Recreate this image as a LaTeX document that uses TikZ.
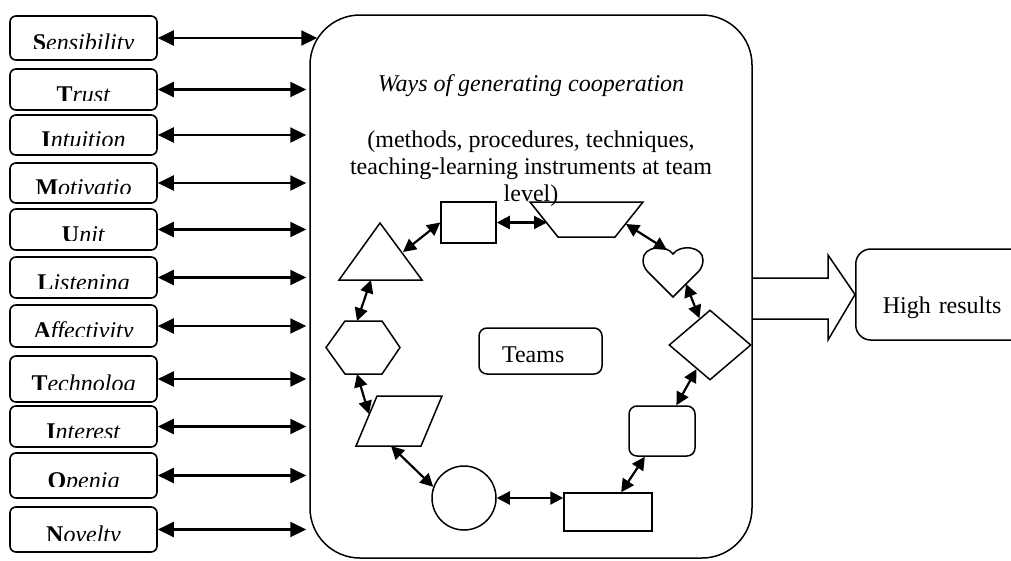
\documentclass[tikz,border=0pt]{standalone}
\usepackage{fontspec}
\setmainfont{Liberation Serif}
\usetikzlibrary{arrows.meta,shapes.geometric}

\begin{document}
\begin{tikzpicture}[x=1pt, y=-1pt, font=\fontsize{24}{27}\selectfont,
  lbox/.style={draw, line width=1.6pt, rounded corners=6pt, minimum width=147pt, inner sep=0pt},
  shp/.style={draw, line width=1.5pt, inner sep=0pt},
  link/.style={{Triangle[length=16pt,width=15pt]}-{Triangle[length=16pt,width=15pt]}, line width=2.2pt},
  slink/.style={{Triangle[length=13pt,width=13pt]}-{Triangle[length=13pt,width=13pt]}, line width=2.2pt}]
\useasboundingbox (0,0) rectangle (1011,560);
% main frame and its texts
\node[shp, rounded corners=50pt, minimum width=442pt, minimum height=543pt] (main) at (531,286.5) {};
\node[anchor=base, font=\fontsize{24}{27}\selectfont\itshape] (title) at (531,91) {Ways of generating cooperation};
\node[anchor=north, align=center, inner sep=0pt] (sub) at (531,130.5) {(methods, procedures, techniques,\\teaching-learning instruments at team\\level)};
% values on the left
\foreach \fl/\rl/\yc/\hh/\sx [count=\i] in {S/ensibility/38/44/8, T/rust/89.5/41/-3, I/ntuition/135/40/-3,
  M/otivatio/183/40/-3, U/nit/229.5/41/-3, L/istening/277.5/41/-3, A/ffectivity/326/42/-3,
  T/echnolog/379/46/-3, I/nterest/426.5/41/-3, O/penig/475.5/45/-3, N/ovelty/529.5/45/-3} {
  \node[lbox, minimum height=\hh pt] (b\i) at (83.5,\yc) {};
  \begin{scope}
    \clip (b\i.north west) rectangle ([yshift=-10.5pt]b\i.east);
    \node[anchor=base, inner sep=0pt] (t\i) at ([yshift=-12.5pt]b\i.center) {\textbf{\fl}\textit{\rl}};
  \end{scope}
  \draw[link] (b\i) -- ([xshift=\sx pt]b\i -| main.west);
}
% ring of tools
\node[shp, minimum width=55pt, minimum height=41pt] (rtop) at (468.5,222.5) {};
\draw[shp] (530,202) -- (643,202) -- (615,237) -- (558,237) -- cycle;
\coordinate (trapl) at (547,222.5); \coordinate (trapr) at (626,224);
\draw[shp] (673,254) .. controls (666,244) and (643,246) .. (643,260) .. controls (643,265) and (645,269) .. (648,272)
  -- (673,297) -- (698,272) .. controls (701,269) and (703,265) .. (703,260) .. controls (703,246) and (680,244) .. (673,254) -- cycle;
\coordinate (heartl) at (667,250); \coordinate (heartb) at (686,284);
\node[shp, diamond, minimum width=82pt, minimum height=70pt] (dia) at (710,345) {};
\node[shp, rounded corners=8pt, minimum width=66pt, minimum height=50pt] (rsq) at (662,431) {};
\node[shp, minimum width=88pt, minimum height=38pt] (rbot) at (608,512) {};
\node[shp, circle, minimum size=64pt] (circ) at (464,498) {};
\draw[shp] (377,396) -- (442,396) -- (421,446) -- (356,446) -- cycle;
\coordinate (parab) at (391,446); \coordinate (paral) at (369,414);
\draw[shp] (326,347.5) -- (345,321) -- (382,321) -- (400,347.5) -- (382,374) -- (345,374) -- cycle;
\coordinate (hext) at (357,321); \coordinate (hexb) at (357,374);
\draw[shp] (380,223) -- (422,280) -- (339,280) -- cycle;
\coordinate (trir) at (403,252); \coordinate (trib) at (371,280);
\draw[slink] (trir) -- (rtop.west);
\draw[slink] (rtop) -- (trapl);
\draw[slink] (trapr) -- (heartl);
\draw[slink] (heartb) -- (dia);
\draw[slink] (dia) -- (rsq);
\draw[slink] (rsq) -- (rbot);
\draw[slink] (rbot.west |- circ.east) -- (circ.east);
\draw[slink] (circ.160) -- (parab);
\draw[slink] (paral) -- (hexb);
\draw[slink] (hext) -- (trib);
\node[shp, rounded corners=8pt, minimum width=123pt, minimum height=46pt, text width=77pt, inner xsep=23pt,
  align=left, text height=22pt, text depth=0pt] (team) at (540.5,351) {Teams};
% outcome
\node[draw, line width=1.5pt, rounded corners=15pt, minimum height=91pt, text width=130pt, inner xsep=27pt,
  align=left, text height=37pt, text depth=0pt, anchor=west] (res) at (855,294.5) {High results};
\draw[shp] (main.east |- 0,278) -- (828,278) -- (828,255) -- (res.west) -- (828,340) -- (828,319) -- (main.east |- 0,319);
\end{tikzpicture}
\end{document}
